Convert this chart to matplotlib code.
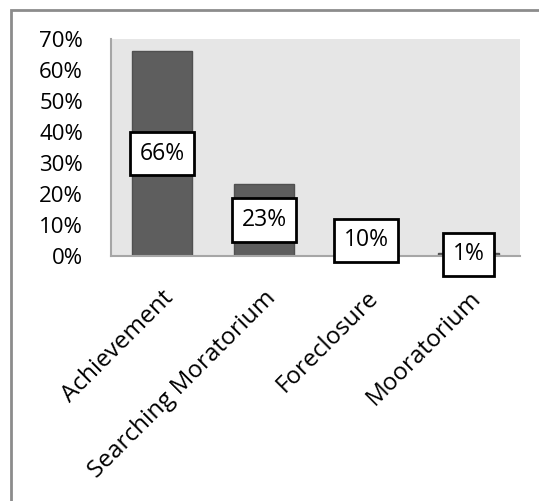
import matplotlib.pyplot as plt
from matplotlib.patches import Rectangle
from matplotlib.ticker import PercentFormatter

categories = ["Achievement", "Searching Moratorium", "Foreclosure", "Mooratorium"]
values = [66, 23, 10, 1]
labels = ["66%", "23%", "10%", "1%"]
y_ticks = [0, 10, 20, 30, 40, 50, 60, 70]

plt.rcParams['font.family'] = ['Open Sans', 'DejaVu Sans']

fig = plt.figure(figsize=(5.39, 5.01), dpi=100)
ax = fig.add_axes([0.2054, 0.4896, 0.7586, 0.4326])

# outer chart frame (only left/top visible in the reference)
frame = Rectangle((11 / 539, -0.2), 1.2, 1.2 - 10 / 501,
                  transform=fig.transFigure, fill=False,
                  edgecolor='#8c8c8c', linewidth=2, clip_on=False)
fig.patches.append(frame)

x = range(len(categories))
ax.set_facecolor('#e6e6e6')
ax.bar(x, values, width=0.59, color='#5e5e5e', edgecolor='#505050', linewidth=1, zorder=2)

for xi, v, lab in zip(x, values, labels):
    ax.text(xi, v / 2, lab, ha='center', va='center', fontsize=16.5, zorder=5,
            bbox=dict(boxstyle='square,pad=0.42', facecolor='white',
                      edgecolor='black', linewidth=2), clip_on=False)

ax.set_xlim(-0.5, len(categories) - 0.5)
ax.set_ylim(0, 70)
ax.set_yticks(y_ticks)
ax.yaxis.set_major_formatter(PercentFormatter(decimals=0))
ax.set_xticks(list(x))
ax.set_xticklabels(categories, rotation=45, ha='right', va='top', rotation_mode='anchor')
ax.tick_params(axis='y', length=0, labelsize=16, pad=20)
ax.tick_params(axis='x', length=0, labelsize=17.5, pad=22)

for side in ['top', 'right']:
    ax.spines[side].set_visible(False)
for side in ['left', 'bottom']:
    ax.spines[side].set_color('#a6a6a6')
    ax.spines[side].set_linewidth(1.5)

fig.savefig('out.png', dpi=100)
